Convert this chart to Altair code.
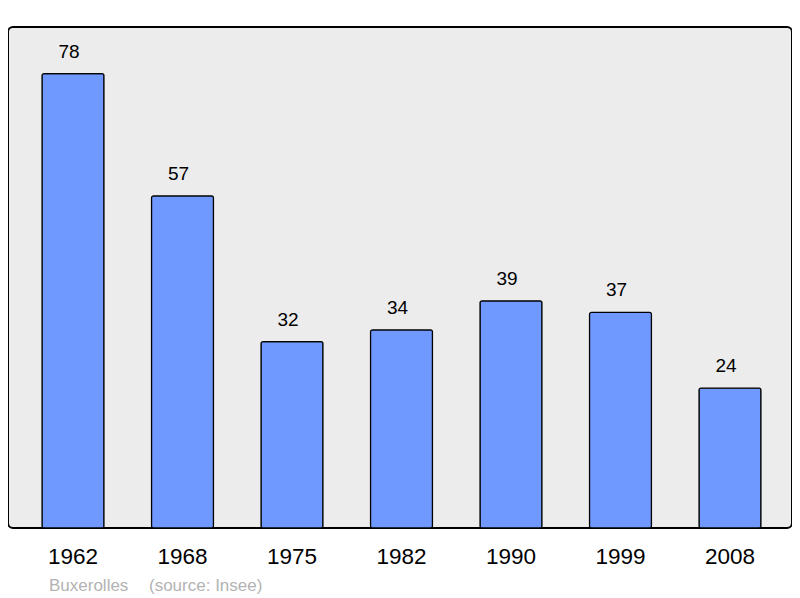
import altair as alt
import pandas as pd

years = ["1962", "1968", "1975", "1982", "1990", "1999", "2008"]
population = [78, 57, 32, 34, 39, 37, 24]
footer_place = "Buxerolles"
footer_source = "(source: Insee)"

df = pd.DataFrame({"year": years, "pop": population})

x = alt.X("year:N", sort=years, title=None,
          scale=alt.Scale(paddingInner=0.434, paddingOuter=0.297, align=0.523),
          axis=alt.Axis(labelAngle=0, labelFontSize=22.5, labelFont="Liberation Sans",
                        labelColor="#000000", ticks=False, domain=False, labelPadding=17))
y = alt.Y("pop:Q", title=None, scale=alt.Scale(domain=[0, 86], nice=False, zero=True), axis=None)

bars = alt.Chart(df).mark_bar(color="#7099ff", stroke="#000000", strokeWidth=1.2,
                              cornerRadius=2).encode(x=x, y=y)
labels = alt.Chart(df).mark_text(baseline="bottom", dy=-12, dx=-4, fontSize=19,
                                 font="Liberation Sans", color="#000000").encode(
    x=x, y=y, text="pop:Q")

footer1 = alt.Chart(pd.DataFrame({"t": [footer_place]})).mark_text(
    align="left", baseline="middle", fontSize=17, font="Liberation Sans", color="#b3b3b3"
).encode(x=alt.value(41), y=alt.value(559), text="t:N")
footer2 = alt.Chart(pd.DataFrame({"t": [footer_source]})).mark_text(
    align="left", baseline="middle", fontSize=17, font="Liberation Sans", color="#b3b3b3"
).encode(x=alt.value(141), y=alt.value(559), text="t:N")

chart = alt.layer(bars, labels, footer1, footer2).properties(
    width=784, height=501,
    padding={"left": 0, "top": 19, "right": 0, "bottom": 0},
    background="#ffffff",
).configure_view(
    fill="#ececec", stroke="#000000", strokeWidth=2, cornerRadius=5
)

chart.save("out.html", embed_options={"renderer": "svg", "actions": False})
